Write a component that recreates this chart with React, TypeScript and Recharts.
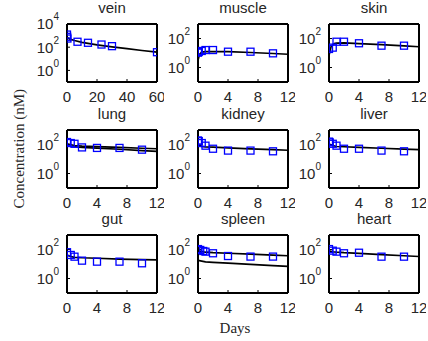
import React from 'react';
import { ComposedChart, Line, Scatter, XAxis, YAxis } from 'recharts';

// ---- data (days, concentration nM) ----
const veinObsDays = [0, 0.1, 0.3, 7, 14, 23, 30, 60];
const veinObsVals = [1230, 790, 560, 295, 240, 170, 123, 37];
const veinFitDays = [0, 2, 5, 10, 20, 30, 40, 50, 60];
const veinFitVals = [680, 500, 380, 263, 158, 107, 76, 52, 37];

const muscleObsDays = [0, 0.1, 0.5, 1, 2, 4, 7, 10];
const muscleObsVals = [10.5, 12, 13.8, 16, 16, 12.3, 12.3, 9.5];
const muscleFitDays = [0, 0.2, 0.5, 1, 2, 4, 7, 10, 12];
const muscleFitVals = [3.2, 8, 11.5, 12.5, 12.6, 12.3, 10.8, 9.2, 8.2];

const skinObsDays = [0, 0.5, 1, 2, 4, 7, 10];
const skinObsVals = [19, 23.4, 60, 60, 47, 32, 32];
const skinFitDays = [0, 0.3, 0.7, 1, 2, 4, 7, 10, 12];
const skinFitVals = [7, 30, 45, 48, 50, 45, 38, 31, 27];

const lungObsDays = [0, 0.5, 1, 2, 4, 7, 10];
const lungObsVals = [148, 126, 112, 63, 58, 58, 44];
const lungFitDays = [0, 1, 2, 4, 7, 10, 12];
const lungFitVals = [110, 85, 78, 72, 63, 55, 51];
const lungFit2Vals = [80, 70, 62, 56, 47, 38, 34];

const kidneyObsDays = [0, 0.1, 0.5, 1, 2, 4, 7, 10];
const kidneyObsVals = [190, 170, 126, 83, 51, 38, 38, 34];
const kidneyFitDays = [0, 0.5, 1, 2, 4, 7, 10, 12];
const kidneyFitVals = [100, 75, 68, 65, 58, 50, 44, 40];

const liverObsDays = [0, 0.1, 0.5, 1, 2, 4, 7, 10];
const liverObsVals = [158, 140, 112, 83, 51, 51, 38, 34];
const liverFitDays = [0, 0.5, 1, 2, 4, 7, 10, 12];
const liverFitVals = [107, 85, 73, 70, 63, 55, 48, 44];

const gutObsDays = [0, 0.5, 1, 2, 4, 7, 10];
const gutObsVals = [65, 42, 32, 17, 14.5, 14.5, 11.2];
const gutFitDays = [0, 0.5, 1, 2, 4, 7, 10, 12];
const gutFitVals = [42, 33, 29, 27, 25, 22, 20, 19];

const spleenObsDays = [0, 0.3, 0.7, 1, 2, 4, 7, 10];
const spleenObsVals = [107, 93, 79, 71, 55, 35.5, 32.4, 32.4];
const spleenFitDays = [0, 1, 2, 4, 7, 10, 12];
const spleenFitVals = [81, 65, 60, 55, 48, 41, 37];
const spleenFit2Vals = [18, 14, 13, 11.5, 9.5, 7.8, 6.8];

const heartObsDays = [0, 0.5, 1, 2, 4, 7, 10];
const heartObsVals = [107, 83, 71, 55, 60, 32, 32];
const heartFitDays = [0, 0.5, 1, 2, 4, 7, 10, 12];
const heartFitVals = [81, 70, 65, 60, 54, 45, 37, 33];

const veinXTicks = [0, 20, 40, 60];
const organXTicks = [0, 4, 8, 12];
const veinYTicks = [1, 100, 10000];
const organYTicks = [1, 100];

const zip = (xs: number[], ys: number[]) => xs.map((x, i) => ({ x, y: ys[i] }));

// ---- layout ----
const COLS = [67, 198, 329];
const ROWS = [24, 130, 235];
const BOX_W = 90;
const BOX_H = 58;
const FONT = '"Liberation Sans", Arial, Helvetica, sans-serif';
const SERIF = '"Liberation Serif", "Times New Roman", serif';
const TXT = '#262626';

type PanelDef = {
  title: string;
  obs: { x: number; y: number }[];
  fits: { x: number; y: number }[][];
  xDomain: [number, number];
  xTicks: number[];
  yDomain: [number, number];
  yTicks: number[];
};

const panels: PanelDef[] = [
  { title: 'vein', obs: zip(veinObsDays, veinObsVals), fits: [zip(veinFitDays, veinFitVals)], xDomain: [0, 60], xTicks: veinXTicks, yDomain: [0.1, 10000], yTicks: veinYTicks },
  { title: 'muscle', obs: zip(muscleObsDays, muscleObsVals), fits: [zip(muscleFitDays, muscleFitVals)], xDomain: [0, 12], xTicks: organXTicks, yDomain: [0.1, 1000], yTicks: organYTicks },
  { title: 'skin', obs: zip(skinObsDays, skinObsVals), fits: [zip(skinFitDays, skinFitVals)], xDomain: [0, 12], xTicks: organXTicks, yDomain: [0.1, 1000], yTicks: organYTicks },
  { title: 'lung', obs: zip(lungObsDays, lungObsVals), fits: [zip(lungFitDays, lungFitVals), zip(lungFitDays, lungFit2Vals)], xDomain: [0, 12], xTicks: organXTicks, yDomain: [0.1, 1000], yTicks: organYTicks },
  { title: 'kidney', obs: zip(kidneyObsDays, kidneyObsVals), fits: [zip(kidneyFitDays, kidneyFitVals)], xDomain: [0, 12], xTicks: organXTicks, yDomain: [0.1, 1000], yTicks: organYTicks },
  { title: 'liver', obs: zip(liverObsDays, liverObsVals), fits: [zip(liverFitDays, liverFitVals)], xDomain: [0, 12], xTicks: organXTicks, yDomain: [0.1, 1000], yTicks: organYTicks },
  { title: 'gut', obs: zip(gutObsDays, gutObsVals), fits: [zip(gutFitDays, gutFitVals)], xDomain: [0, 12], xTicks: organXTicks, yDomain: [0.1, 1000], yTicks: organYTicks },
  { title: 'spleen', obs: zip(spleenObsDays, spleenObsVals), fits: [zip(spleenFitDays, spleenFitVals), zip(spleenFitDays, spleenFit2Vals)], xDomain: [0, 12], xTicks: organXTicks, yDomain: [0.1, 1000], yTicks: organYTicks },
  { title: 'heart', obs: zip(heartObsDays, heartObsVals), fits: [zip(heartFitDays, heartFitVals)], xDomain: [0, 12], xTicks: organXTicks, yDomain: [0.1, 1000], yTicks: organYTicks },
];

const SquareShape = (props: any) => {
  const { cx, cy } = props;
  if (cx == null || cy == null) return <g />;
  return <rect x={cx - 3.5} y={cy - 3.5} width={7} height={7} fill="none" stroke="#0000ff" strokeWidth={1.3} />;
};

const PowTick = (props: any) => {
  const { x, y, payload } = props;
  const exp = Math.round(Math.log10(payload.value));
  return (
    <text x={x} y={y + 5.3} textAnchor="end" fill={TXT} fontFamily={FONT}>
      <tspan fontSize={15}>10</tspan>
      <tspan fontSize={10} dy={-9}>{exp}</tspan>
    </text>
  );
};

const YW = 60;
const TOPPAD = 30;

function Panel({ p, left, top }: { p: PanelDef; left: number; top: number }) {
  const W = YW + BOX_W + 1 + 6;
  const H = TOPPAD + BOX_H + 30;
  return (
    <div style={{ position: 'absolute', left: left - YW, top: top - TOPPAD }}>
      <ComposedChart width={W} height={H} margin={{ top: TOPPAD - 1, right: 6, bottom: 0, left: 0 }}>
        <XAxis xAxisId="b" type="number" dataKey="x" domain={p.xDomain} ticks={p.xTicks} allowDataOverflow
          height={30} tickSize={-3} tickMargin={12} interval={0}
          axisLine={{ stroke: '#000', strokeWidth: 2 }} tickLine={{ stroke: '#000', strokeWidth: 1 }}
          tick={{ fill: TXT, fontSize: 15, fontFamily: FONT }} />
        <XAxis xAxisId="t" orientation="top" type="number" dataKey="x" domain={p.xDomain} ticks={p.xTicks} allowDataOverflow
          height={1} tickSize={-3} tick={false} interval={0}
          axisLine={{ stroke: '#000', strokeWidth: 2 }} tickLine={{ stroke: '#000', strokeWidth: 1 }} />
        <YAxis yAxisId="l" type="number" dataKey="y" scale="log" domain={p.yDomain} ticks={p.yTicks} allowDataOverflow
          width={YW} tickSize={-3} tickMargin={11} interval={0}
          axisLine={{ stroke: '#000', strokeWidth: 2 }} tickLine={{ stroke: '#000', strokeWidth: 1 }}
          tick={<PowTick />} />
        <YAxis yAxisId="r" orientation="right" type="number" dataKey="y" scale="log" domain={p.yDomain} ticks={p.yTicks} allowDataOverflow
          width={1} tickSize={-3} tick={false} interval={0}
          axisLine={{ stroke: '#000', strokeWidth: 2 }} tickLine={{ stroke: '#000', strokeWidth: 1 }} />
        <Scatter xAxisId="b" yAxisId="l" data={p.obs} dataKey="y" shape={<SquareShape />} isAnimationActive={false} />
        {p.fits.map((f, i) => (
          <Line key={i} xAxisId="b" yAxisId="l" data={f} dataKey="y" type="linear" dot={false}
            stroke="#000" strokeWidth={1.7} isAnimationActive={false} />
        ))}
      </ComposedChart>
    </div>
  );
}

export default function App() {
  return (
    <div style={{ position: 'absolute', left: 0, top: 0, width: 428, height: 341, background: '#fff' }}>
      {panels.map((p, i) => (
        <Panel key={p.title} p={p} left={COLS[i % 3]} top={ROWS[Math.floor(i / 3)]} />
      ))}
      <svg width={428} height={341} style={{ position: 'absolute', left: 0, top: 0, pointerEvents: 'none' }}>
        {panels.map((p, i) => (
          <text key={p.title} x={COLS[i % 3] + BOX_W / 2} y={ROWS[Math.floor(i / 3)] - 11} textAnchor="middle"
            fontSize={15} fontFamily={FONT} fill={TXT}>{p.title}</text>
        ))}
        <text x={235} y={333} textAnchor="middle" fontSize={15} fontFamily={SERIF} fill={TXT}>Days</text>
        <text x={24} y={208.5} textAnchor="start" fontSize={15} transform="rotate(-90 24 208.5)"
          fontFamily={SERIF} fill={TXT}>Concentration (nM)</text>
      </svg>
    </div>
  );
}
